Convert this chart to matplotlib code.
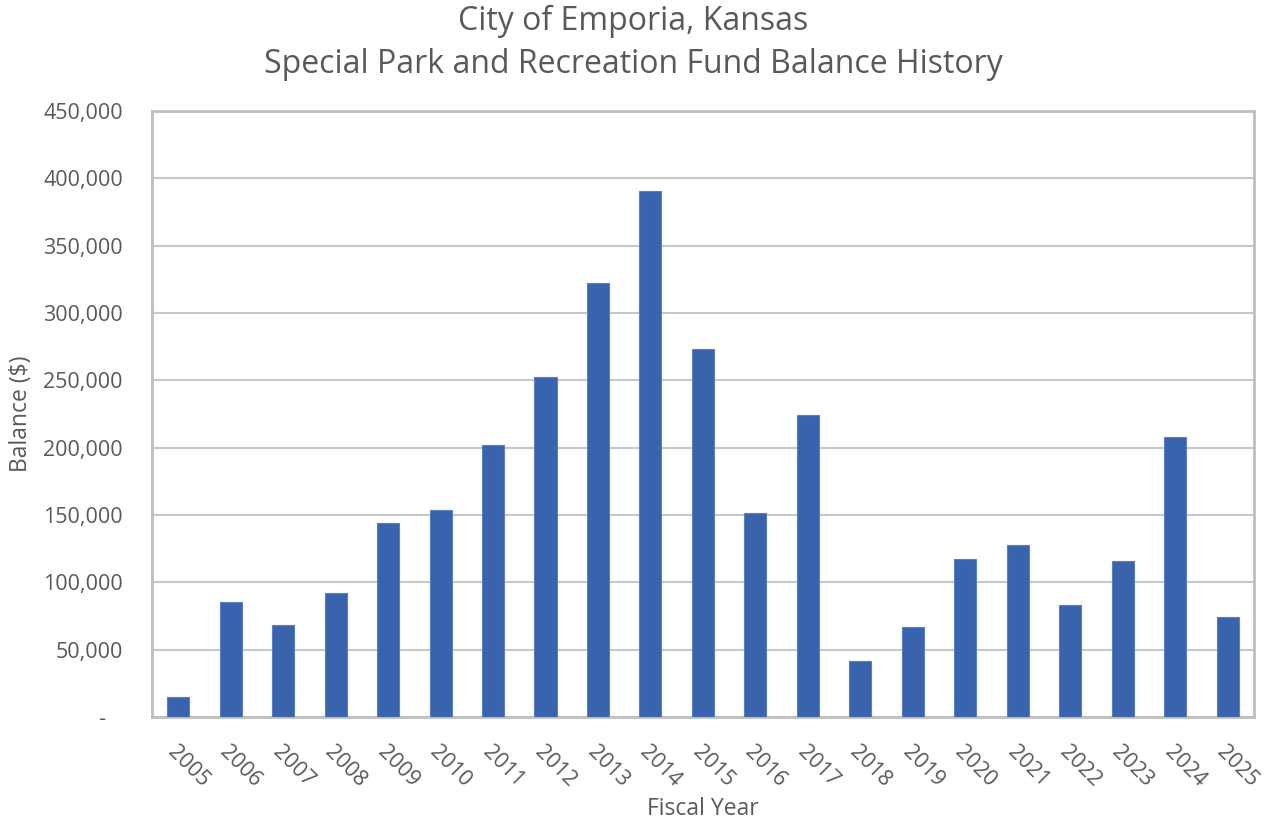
import matplotlib.pyplot as plt
from matplotlib.ticker import FuncFormatter, MultipleLocator

# Fund balance by fiscal year
years = ['2005', '2006', '2007', '2008', '2009', '2010', '2011', '2012', '2013', '2014',
         '2015', '2016', '2017', '2018', '2019', '2020', '2021', '2022', '2023', '2024', '2025']
balance = [15000, 85500, 68500, 92000, 144000, 154000, 202000, 252500, 322500, 390500,
           273500, 151500, 224000, 41500, 66500, 117000, 127500, 83000, 115500, 208000, 74000]

txt = '#595959'
plt.rcParams['font.family'] = ['Open Sans', 'DejaVu Sans']

fig = plt.figure(figsize=(12.66, 8.19), dpi=100)
ax = fig.add_axes([0.120, 0.1245, 0.8705, 0.74])

x = range(len(years))
ax.bar(x, balance, width=0.42, color='#3A63AD', edgecolor='#5B7FC2', linewidth=0.8, zorder=3)

ax.set_xlim(-0.5, len(years) - 0.5)
ax.set_ylim(0, 450000)
ax.yaxis.set_major_locator(MultipleLocator(50000))
# accounting style: zero shown as a dash, set in from the right
ax.yaxis.set_major_formatter(FuncFormatter(lambda v, p: '-   ' if v == 0 else f'{int(v):,}'))
ax.grid(axis='y', color='#C8C8C8', linewidth=1.5, zorder=0)

for s in ax.spines.values():
    s.set_color('#BFBFBF')
    s.set_linewidth(2)

ax.set_xticks(list(x))
ax.set_xticklabels(years, rotation=-45, ha='left', va='top', rotation_mode='anchor')
ax.tick_params(axis='both', length=0, labelsize=15.5, colors=txt)
ax.tick_params(axis='x', pad=18)
ax.tick_params(axis='y', pad=21)

ax.set_xlabel('Fiscal Year', fontsize=16.5, color=txt, labelpad=4)
ax.set_ylabel('Balance ($)', fontsize=16.5, color=txt)
ax.yaxis.set_label_coords(-0.1075, 0.5)
fig.suptitle('City of Emporia, Kansas\nSpecial Park and Recreation Fund Balance History',
             fontsize=23, color=txt, y=0.994, linespacing=1.4)

fig.savefig('out.png', dpi=100)
